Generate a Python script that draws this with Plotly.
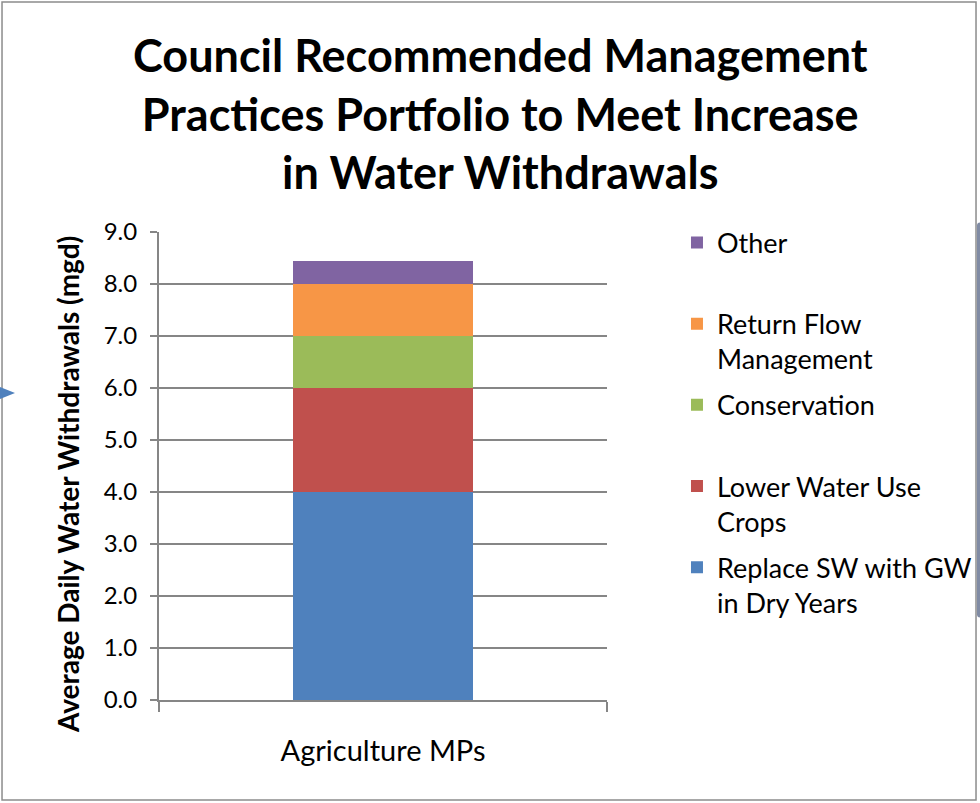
import plotly.graph_objects as go

categories = ["Agriculture MPs"]
series_names = [
    "Replace SW with GW<br>in Dry Years",
    "Lower Water Use<br>Crops",
    "Conservation<br> ",
    "Return Flow<br>Management",
    "Other<br> ",
]
replace_sw = [4.0]
lower_water_crops = [2.0]
conservation = [1.0]
return_flow = [1.0]
other = [0.44]
series_values = [replace_sw, lower_water_crops, conservation, return_flow, other]
series_colors = ["#4F81BD", "#C0504D", "#9BBB59", "#F79646", "#8064A2"]
y_ticks = [0, 1, 2, 3, 4, 5, 6, 7, 8, 9]

FONT = "Lato"
GRID = "#868686"

fig = go.Figure()
n = len(series_names)
for i, (name, vals, color) in enumerate(zip(series_names, series_values, series_colors)):
    # legend lists the top of the stack first, like Excel
    fig.add_trace(go.Bar(x=categories, y=vals, name=name, legendgroup=str(i),
                         legendrank=n - i, marker_color=color, marker_line_width=0))

# outer chart border (paper units relative to plot area)
fig.add_shape(type="rect", xref="paper", yref="paper",
              x0=-0.3504, x1=1.8237, y0=-0.2137, y1=1.4915,
              line=dict(color="#8c8c8c", width=1.5), fillcolor="rgba(0,0,0,0)", layer="above")
# stray connector arrowhead at left edge
fig.add_shape(type="path", xref="paper", yref="paper",
              path="M -0.3549,0.6688 L -0.3214,0.656 L -0.3549,0.6432 Z",
              fillcolor="#4F81BD", line_width=0)

fig.add_annotation(
    text="<b>Council Recommended Management<br>Practices Portfolio to Meet Increase<br>in Water Withdrawals</b>",
    xref="paper", yref="paper", x=0.7612, y=1.2532,
    xanchor="center", yanchor="middle", showarrow=False,
    font=dict(family=FONT, size=45, color="black"),
)
# y axis title, placed like the Excel original (centred lower than the plot area)
fig.add_annotation(
    text="<b>Average Daily Water Withdrawals (mgd)</b>",
    xref="paper", yref="paper", x=-0.2031, y=0.4594,
    xanchor="center", yanchor="middle", textangle=-90, showarrow=False,
    font=dict(family=FONT, size=28, color="black"),
)

fig.update_layout(
    width=980,
    height=803,
    barmode="stack",
    bargap=0.6,
    plot_bgcolor="white",
    paper_bgcolor="white",
    font=dict(family=FONT, color="black"),
    margin=dict(l=159, r=373, t=232, b=103),
    legend=dict(
        xref="container", x=0.6908, xanchor="left",
        yref="container", y=0.728, yanchor="top",
        traceorder="grouped",
        valign="top",
        bgcolor="rgba(0,0,0,0)",
        font=dict(family=FONT, size=27, color="black"),
        tracegroupgap=8,
        itemclick=False,
    ),
    xaxis=dict(
        type="category",
        showline=True, linecolor=GRID, linewidth=2,
        ticks="outside", tickson="boundaries", ticklen=10, tickcolor=GRID, tickwidth=2,
        tickfont=dict(family=FONT, size=29, color="black"),
        ticklabelstandoff=24,
        showgrid=False,
    ),
    yaxis=dict(
        range=[0, 9],
        tickvals=y_ticks,
        tickformat=".1f",
        showline=True, linecolor=GRID, linewidth=2,
        ticks="outside", ticklen=7, tickcolor=GRID, tickwidth=2,
        showgrid=True, gridcolor=GRID, gridwidth=2,
        zeroline=False,
        tickfont=dict(family=FONT, size=24, color="black"),
        ticklabelstandoff=8,
    ),
)

fig.write_html("out.html", config={"displayModeBar": False},
               post_script="document.body.style.margin='0px';document.body.style.overflow='hidden';")
